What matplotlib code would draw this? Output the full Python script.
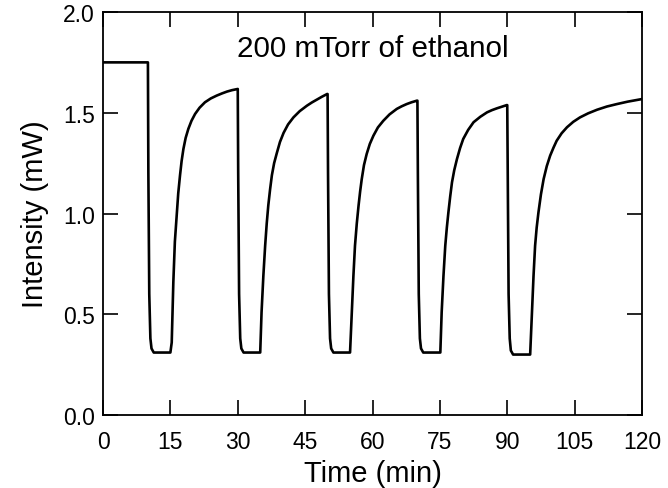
import numpy as np
import matplotlib
matplotlib.use("Agg")
import matplotlib.pyplot as plt

plt.rcParams['font.family'] = ['Liberation Sans', 'DejaVu Sans']

# Baseline before the first ethanol exposure
baseline_t = [0.0, 9.95]
baseline_i = [1.75, 1.75]

# Each cycle: drop on exposure, trough, then recovery until the next exposure
cycle1_t = [10.0, 10.1, 10.3, 10.55, 10.8, 11.3, 15.0, 15.3, 15.66, 16.0, 16.4, 16.75, 17.15, 17.5,
            17.9, 18.4, 19.0, 19.7, 20.5, 21.5, 22.7, 24.0, 25.3, 26.5, 27.6, 28.7, 29.9]
cycle1_i = [1.75, 1.20, 0.60, 0.38, 0.33, 0.31, 0.31, 0.36, 0.66, 0.86, 0.99, 1.10, 1.19, 1.26,
            1.32, 1.375, 1.42, 1.46, 1.494, 1.525, 1.552, 1.571, 1.585, 1.596, 1.605, 1.612, 1.618]

cycle2_t = [30.0, 30.1, 30.3, 30.55, 30.8, 31.3, 35.0, 35.3, 35.7, 36.1, 36.45, 36.8, 37.2, 37.6,
            38.1, 38.7, 39.4, 40.2, 41.2, 42.4, 43.8, 45.4, 46.5, 47.6, 48.7, 49.9]
cycle2_i = [1.618, 1.20, 0.60, 0.38, 0.33, 0.31, 0.31, 0.51, 0.69, 0.84, 0.95, 1.04, 1.12, 1.19,
            1.25, 1.30, 1.355, 1.40, 1.442, 1.477, 1.508, 1.535, 1.551, 1.565, 1.579, 1.593]

cycle3_t = [50.0, 50.1, 50.3, 50.55, 50.8, 51.3, 55.0, 55.4, 55.75, 56.1, 56.5, 56.9, 57.25, 57.6,
            58.1, 58.7, 59.4, 60.2, 61.2, 62.4, 63.8, 65.4, 66.5, 67.6, 68.7, 69.9]
cycle3_i = [1.593, 1.20, 0.60, 0.38, 0.33, 0.31, 0.31, 0.51, 0.69, 0.84, 0.95, 1.04, 1.11, 1.17,
            1.24, 1.295, 1.345, 1.386, 1.427, 1.46, 1.492, 1.519, 1.532, 1.543, 1.552, 1.56]

cycle4_t = [70.0, 70.1, 70.3, 70.55, 70.8, 71.3, 75.1, 75.4, 75.8, 76.2, 76.55, 76.9, 77.3, 77.7,
            78.2, 78.8, 79.5, 80.2, 81.3, 82.5, 84.0, 85.5, 86.6, 87.7, 88.8, 89.9]
cycle4_i = [1.56, 1.20, 0.60, 0.38, 0.33, 0.31, 0.31, 0.51, 0.69, 0.84, 0.93, 1.006, 1.085, 1.155,
            1.215, 1.27, 1.325, 1.37, 1.415, 1.453, 1.48, 1.502, 1.513, 1.522, 1.530, 1.538]

cycle5_t = [90.0, 90.1, 90.3, 90.55, 90.8, 91.3, 95.1, 95.5, 95.85, 96.2, 96.55, 96.95, 97.5, 98.1,
            98.8, 99.55, 100.3, 101.0, 102.1, 103.3, 104.7, 106.2, 108.0, 110.0, 112.2, 114.4,
            116.8, 119.2, 120.0]
cycle5_i = [1.538, 1.20, 0.60, 0.38, 0.32, 0.30, 0.30, 0.51, 0.69, 0.84, 0.93, 1.006, 1.095, 1.171,
            1.235, 1.287, 1.327, 1.361, 1.398, 1.428, 1.455, 1.477, 1.497, 1.515, 1.531, 1.543,
            1.555, 1.565, 1.568]

x_ticks = [0, 15, 30, 45, 60, 75, 90, 105, 120]
y_ticks = [0.0, 0.5, 1.0, 1.5, 2.0]

time = np.concatenate([baseline_t, cycle1_t, cycle2_t, cycle3_t, cycle4_t, cycle5_t])
intensity = np.concatenate([baseline_i, cycle1_i, cycle2_i, cycle3_i, cycle4_i, cycle5_i])

fig = plt.figure(figsize=(6.68, 4.89), dpi=100)
ax = fig.add_axes([103 / 668, 73 / 489, 539 / 668, 403 / 489])

ax.plot(time, intensity, color='black', linewidth=1.9,
        solid_joinstyle='round', solid_capstyle='round')

ax.set_xlim(0, 120)
ax.set_ylim(0, 2.0)
ax.set_xticks(x_ticks)
ax.set_yticks(y_ticks)
ax.set_xticklabels([str(v) for v in x_ticks])
ax.set_yticklabels([f"{v:.1f}" for v in y_ticks])

ax.tick_params(direction='in', length=11, width=1.2, top=True, right=True,
               labelsize=16.5, colors='black')
ax.tick_params(axis='x', pad=11)
ax.tick_params(axis='y', pad=6)
for s in ax.spines.values():
    s.set_linewidth(1.3)

ax.set_xlabel('Time (min)', fontsize=21, labelpad=4)
ax.set_ylabel('Intensity (mW)', fontsize=21, labelpad=10)

ax.text(60, 1.782, '200 mTorr of ethanol', fontsize=21.3,
        ha='center', va='baseline')

fig.savefig('out.png', dpi=100)
